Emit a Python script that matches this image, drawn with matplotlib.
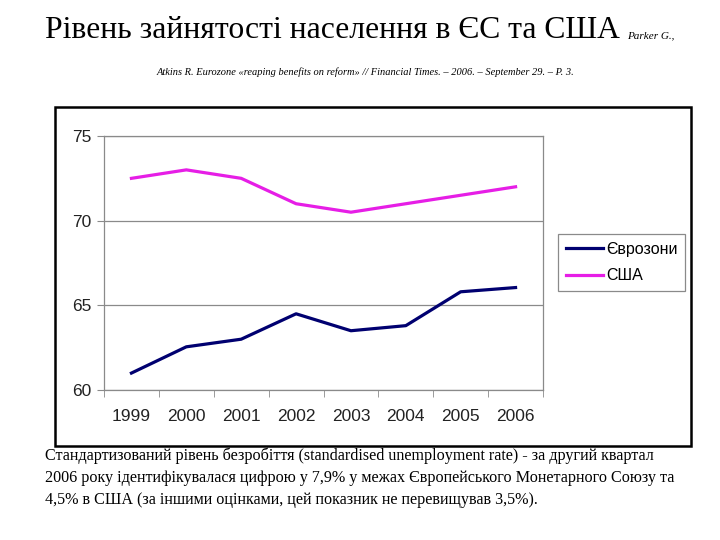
import matplotlib
matplotlib.use("Agg")
import matplotlib.pyplot as plt
from matplotlib.patches import Rectangle

# values (employment rate, %)
years = ["1999", "2000", "2001", "2002", "2003", "2004", "2005", "2006"]
eurozone = [61.0, 62.55, 63.0, 64.5, 63.5, 63.8, 65.8, 66.05]
usa = [72.5, 73.0, 72.5, 71.0, 70.5, 71.0, 71.5, 72.0]
series_labels = ["Єврозони", "США"]
y_ticks = [60, 65, 70, 75]

title = "Рівень зайнятості населення в ЄС та США"
source_a = "Parker G.,"
source_b = ("Atkins R. Eurozone «reaping benefits on reform» // Financial Times. "
            "– 2006. – September 29. – P. 3.")
caption = ("Стандартизований рівень безробіття (standardised unemployment rate) - за другий квартал\n"
           "2006 року ідентифікувалася цифрою у 7,9% у межах Європейського Монетарного Союзу та\n"
           "4,5% в США (за іншими оцінками, цей показник не перевищував 3,5%).")

W, H = 720, 540
fig = plt.figure(figsize=(W / 100, H / 100), dpi=100)
fig.patch.set_facecolor("white")

# outer black frame around the chart object
fig.patches.append(Rectangle((55 / W, 1 - 446 / H), (691 - 55) / W, (446 - 107) / H,
                             transform=fig.transFigure, fill=False,
                             edgecolor="black", linewidth=1.8, zorder=0))

ax = fig.add_axes([104 / W, 1 - 390 / H, (543 - 104) / W, (390 - 136) / H])
x = list(range(len(years)))
l1, = ax.plot(x, eurozone, color="#000070", linewidth=2.3)
l2, = ax.plot(x, usa, color="#E61EE6", linewidth=2.3)

ax.set_xlim(-0.5, len(years) - 0.5)
ax.set_ylim(60, 75)
ax.set_yticks(y_ticks)
ax.set_yticklabels([str(t) for t in y_ticks], fontsize=12.5, family="Liberation Sans", color="#222222")
ax.yaxis.grid(True, color="#8a8a8a", linewidth=0.9)
ax.set_axisbelow(True)

# category labels at centers, tick marks between categories
ax.set_xticks(x)
ax.set_xticklabels(years, fontsize=12.5, family="Liberation Sans", color="#222222")
ax.tick_params(axis="x", length=0, pad=14)
ax.set_xticks([i - 0.5 for i in range(len(years) + 1)], minor=True)
ax.tick_params(axis="x", which="minor", length=5, color="#8a8a8a", direction="out")
ax.tick_params(axis="y", length=5, color="#8a8a8a", direction="out", pad=4)
for s in ax.spines.values():
    s.set_color("#8a8a8a")
    s.set_linewidth(0.9)

leg = fig.legend([l1, l2], series_labels, loc="upper left",
                 bbox_to_anchor=(558 / W, 1 - 234 / H),
                 prop={"family": "Liberation Sans", "size": 11.5},
                 frameon=True, fancybox=False, framealpha=1,
                 edgecolor="#8a8a8a", handlelength=2.3, handletextpad=0.2,
                 borderpad=0.5, labelspacing=0.7, borderaxespad=0)
leg.get_frame().set_linewidth(0.9)

fig.text(45 / W, 1 - 30 / H, title, family="Liberation Serif", fontsize=22.8,
         va="center", ha="left")
fig.text(627 / W, 1 - 36 / H, source_a, family="Liberation Serif", style="italic",
         fontsize=8, va="center", ha="left")
fig.text(365 / W, 1 - 72 / H, source_b, family="Liberation Serif", style="italic",
         fontsize=7.5, va="center", ha="center")
fig.text(45 / W, 1 - 447 / H, caption, family="Liberation Serif", fontsize=11.6,
         va="top", ha="left", linespacing=1.52)

fig.savefig("out.png", dpi=100)
